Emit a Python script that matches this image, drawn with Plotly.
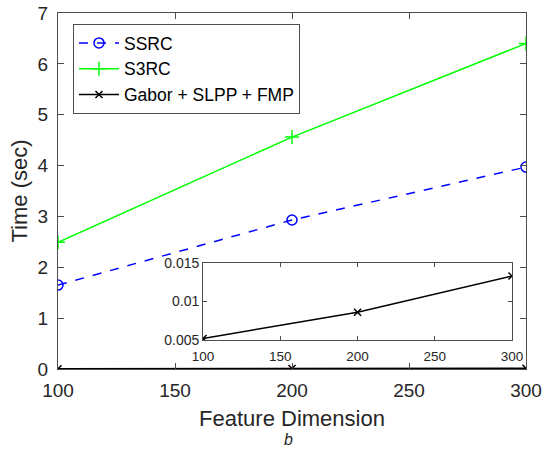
import plotly.graph_objects as go

dims = [100, 200, 300]
ssrc = [1.65, 2.93, 3.97]
s3rc = [2.49, 4.56, 6.40]
gabor = [0.0052, 0.0086, 0.0133]

main_xticks = [100, 150, 200, 250, 300]
main_yticks = [0, 1, 2, 3, 4, 5, 6, 7]
inset_yticks = [0.005, 0.01, 0.015]
inset_yticklabels = ["0.005", "0.01", "0.015"]

FONT = "Liberation Sans, Arial, sans-serif"
AX = "#4d4d4d"
TXT = "#262626"

fig = go.Figure()
fig.add_trace(go.Scatter(x=dims, y=ssrc, name="SSRC", mode="lines+markers",
                         line=dict(color="#0000ff", width=1.5, dash="dash"),
                         marker=dict(symbol="circle-open", size=10, color="#0000ff", line=dict(width=1.5))))
fig.add_trace(go.Scatter(x=dims, y=s3rc, name="S3RC", mode="lines+markers",
                         line=dict(color="#00ff00", width=1.5),
                         marker=dict(symbol="cross-thin-open", size=10, color="#00ff00", line=dict(width=1.5, color="#00ff00"))))
fig.add_trace(go.Scatter(x=dims, y=gabor, name="Gabor + SLPP + FMP", mode="lines+markers",
                         line=dict(color="black", width=1.5),
                         marker=dict(symbol="x-thin-open", size=7, color="black", line=dict(width=1.5, color="black"))))
fig.add_trace(go.Scatter(x=dims, y=gabor, showlegend=False, mode="lines+markers",
                         xaxis="x2", yaxis="y2",
                         line=dict(color="black", width=1.5),
                         marker=dict(symbol="x-thin-open", size=7, color="black", line=dict(width=1.5, color="black"))))

common = dict(showline=True, linecolor=AX, linewidth=1, mirror="allticks", ticks="inside",
              tickcolor=AX, showgrid=False, zeroline=False, automargin=False)

fig.update_layout(
    width=543, height=456,
    margin=dict(l=58, r=17, t=13, b=87),
    paper_bgcolor="white", plot_bgcolor="white",
    font=dict(family=FONT, color=TXT),
    xaxis=dict(range=[100, 300], tickvals=main_xticks, ticklen=6, ticklabelstandoff=4,
               tickfont=dict(size=19, color=TXT),
               title=dict(text="Feature Dimension", font=dict(size=22, color=TXT), standoff=10),
               **common),
    yaxis=dict(range=[0, 7], tickvals=main_yticks, ticklen=6, ticklabelstandoff=5,
               tickfont=dict(size=19, color=TXT),
               title=dict(text="Time (sec)", font=dict(size=22, color=TXT), standoff=3),
               **common),
    xaxis2=dict(domain=[0.31, 0.97], anchor="y2", range=[100, 300], tickvals=main_xticks,
                ticklen=4, ticklabelstandoff=4, tickfont=dict(size=13.5, color=TXT), **common),
    yaxis2=dict(domain=[0.0815, 0.298], anchor="x2", range=[0.005, 0.015],
                tickvals=inset_yticks, ticktext=inset_yticklabels, ticklen=4,
                tickfont=dict(size=14, color=TXT), **common),
    legend=dict(x=0.032, y=0.969, xanchor="left", yanchor="top",
                bgcolor="white", bordercolor=AX, borderwidth=1,
                font=dict(size=17.5, color="black"), tracegroupgap=0, itemwidth=40),
    shapes=[dict(type="rect", xref="x2 domain", yref="y2 domain", x0=0, x1=1, y0=0, y1=1,
                 fillcolor="white", line=dict(width=0), layer="below")],
    annotations=[dict(text="<i>b</i>", xref="paper", yref="paper", x=0.4915, y=-0.199,
                      xanchor="center", yanchor="middle", showarrow=False,
                      font=dict(size=16, color=TXT))],
)

fig.write_html("out.html")
